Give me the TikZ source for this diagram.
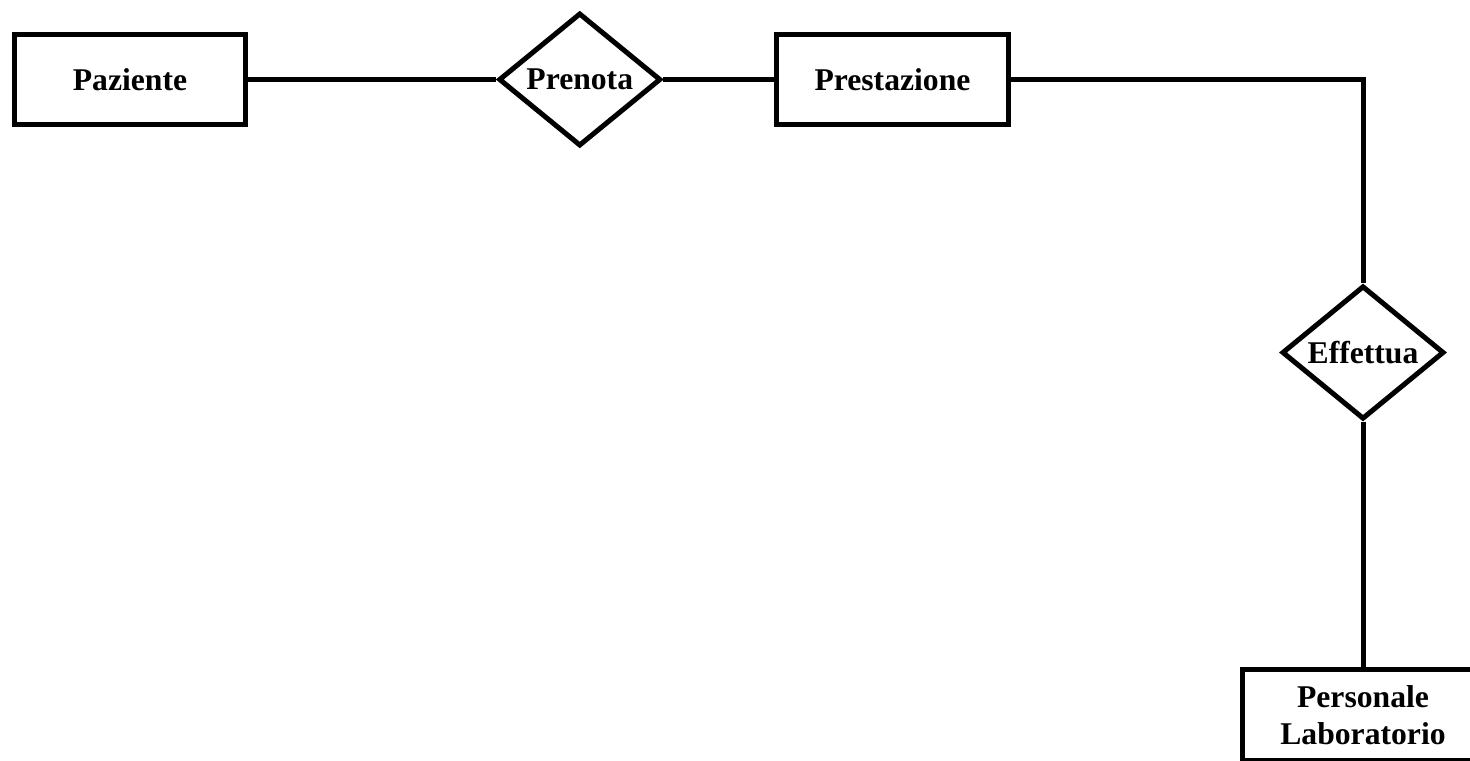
\documentclass[tikz,border=0pt]{standalone}
\usepackage{fontspec}
\setmainfont{Liberation Serif}
\usepackage{xcolor}
\usepackage{tikz}
\usetikzlibrary{shapes,arrows,positioning}

\begin{document}
\begin{tikzpicture}[
    x=0.01cm, y=0.01cm,
    node distance=1.5cm,
    entity/.style={rectangle, draw, line width=0.05cm, minimum width=2.31cm, minimum height=0.90cm, align=center, inner sep=0pt, font=\fontsize{9}{10.5}\selectfont\bfseries},
    rel/.style={diamond, draw, line width=0.05cm, minimum width=1.62cm, minimum height=1.33cm, inner sep=0pt, font=\fontsize{9}{10.5}\selectfont\bfseries},
    link/.style={line width=0.05cm}
]
\useasboundingbox (0,0) rectangle (1470,760);
\clip (0,0) rectangle (1470,760);
% ER diagram
\node[entity] (paz) at (130,680.5) {Paziente};
\node[rel, right=2.48cm of paz] (prn) {Prenota};
\node[entity, right=1.11cm of prn] (pre) {Prestazione};
\node[rel] (eff) at (1363,407.5) {Effettua};
\node[entity, minimum width=2.4cm] (pers) at (1363,45) {Personale\\Laboratorio};

\draw[link] (paz) -- (prn);
\draw[link] (prn) -- (pre);
\draw[link] (pre.east) -| (eff.north);
\draw[link] (eff) -- (pers);
\end{tikzpicture}
\end{document}
